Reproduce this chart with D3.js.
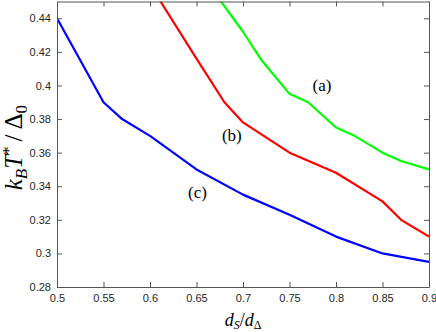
<!DOCTYPE html>
<html>
<head>
<meta charset="utf-8">
<script src="https://cdn.jsdelivr.net/npm/d3@7"></script>
<style>
    body { margin: 0; background: #fff; }
    svg { display: block; }
    .tick text { font-family: "Liberation Sans", Arial, sans-serif; font-size: 11px; fill: #262626; }
    .math { font-family: "Liberation Serif", "Times New Roman", serif; fill: #000; }
</style>
</head>
<body>
<div id="view"></div>
<script>
// curve (a): green
const xA = [0.65, 0.70, 0.72, 0.75, 0.77, 0.80, 0.82, 0.85, 0.87, 0.90];
const yA = [0.47, 0.432, 0.415, 0.395, 0.39, 0.375, 0.37, 0.36, 0.355, 0.35];
// curve (b): red
const xB = [0.60, 0.65, 0.68, 0.70, 0.75, 0.80, 0.85, 0.87, 0.90];
const yB = [0.46, 0.416, 0.39, 0.378, 0.36, 0.348, 0.331, 0.32, 0.31];
// curve (c): blue
const xC = [0.50, 0.55, 0.57, 0.60, 0.65, 0.70, 0.75, 0.80, 0.85, 0.90];
const yC = [0.44, 0.39, 0.38, 0.37, 0.35, 0.335, 0.323, 0.31, 0.30, 0.295];

const xTicks = [0.5, 0.55, 0.6, 0.65, 0.7, 0.75, 0.8, 0.85, 0.9];
const yTicks = [0.28, 0.3, 0.32, 0.34, 0.36, 0.38, 0.4, 0.42, 0.44];

const series = [
    {xs: xA, ys: yA, color: '#00ff00', label: '(a)', at: [0.785, 0.3997]},
    {xs: xB, ys: yB, color: '#ff0000', label: '(b)', at: [0.688, 0.370]},
    {xs: xC, ys: yC, color: '#0000ff', label: '(c)', at: [0.651, 0.336]}
];

const viewWidth = 436;
const viewHeight = 332;
const margin = {top: 1.5, left: 57, right: 7, bottom: 45};
const width = viewWidth - margin.left - margin.right;
const height = viewHeight - margin.top - margin.bottom;

const svg = d3.select('#view')
    .append('svg')
        .attr('width', viewWidth)
        .attr('height', viewHeight)
    .append('g')
        .attr('transform', `translate(${margin.left},${margin.top})`);

const x = d3.scaleLinear().domain([0.5, 0.9]).range([0, width]);
const y = d3.scaleLinear().domain([0.28, 0.45]).range([height, 0]);

svg.append('clipPath')
    .attr('id', 'clip')
    .append('rect')
        .attr('width', width)
        .attr('height', height);

// lines
series.forEach((s) => {
    const pts = s.xs.map((v, i) => [v, s.ys[i]]);
    svg.append('path')
        .datum(pts)
        .attr('clip-path', 'url(#clip)')
        .attr('fill', 'none')
        .attr('stroke', s.color)
        .attr('stroke-width', 2.2)
        .attr('stroke-linejoin', 'round')
        .attr('d', d3.line().x(d => x(d[0])).y(d => y(d[1])));
});

// annotations
series.forEach((s) => {
    svg.append('text')
        .attr('class', 'math')
        .attr('x', x(s.at[0]))
        .attr('y', y(s.at[1]))
        .attr('dy', '0.32em')
        .attr('text-anchor', 'middle')
        .attr('font-size', 17)
        .text(s.label);
});

// axes (ticks inside, box on)
const fmt = d => String(+d.toFixed(2));
const axisColor = '#555';
const styleAxis = (g) => {
    g.select('.domain').attr('stroke', axisColor);
    g.selectAll('.tick line').attr('stroke', axisColor);
};
svg.append('g')
    .attr('transform', `translate(0,${height})`)
    .call(d3.axisBottom(x).tickValues(xTicks).tickFormat(fmt).tickSizeInner(-5).tickSizeOuter(0).tickPadding(7))
    .call(styleAxis);
svg.append('g')
    .call(d3.axisLeft(y).tickValues(yTicks).tickFormat(fmt).tickSizeInner(-5).tickSizeOuter(0).tickPadding(6))
    .call(styleAxis);
svg.append('g')
    .call(d3.axisTop(x).tickValues(xTicks).tickFormat('').tickSizeInner(-5).tickSizeOuter(0))
    .call(styleAxis);
svg.append('g')
    .attr('transform', `translate(${width},0)`)
    .call(d3.axisRight(y).tickValues(yTicks).tickFormat('').tickSizeInner(-5).tickSizeOuter(0))
    .call(styleAxis);

// axis labels
const xl = svg.append('text')
    .attr('class', 'math')
    .attr('x', width / 2)
    .attr('y', height + 39)
    .attr('text-anchor', 'middle')
    .attr('font-size', 18)
    .attr('font-style', 'italic');
xl.append('tspan').text('d');
xl.append('tspan').attr('font-size', 12).attr('dy', 3).text('S');
xl.append('tspan').attr('dy', -3).attr('font-style', 'normal').text('/');
xl.append('tspan').text('d');
xl.append('tspan').attr('font-size', 12).attr('dy', 3).attr('font-style', 'normal').text('Δ');

const yl = svg.append('text')
    .attr('class', 'math')
    .attr('transform', `translate(${-35},${y(0.363)}) rotate(-90)`)
    .attr('text-anchor', 'middle')
    .attr('font-size', 25)
    .attr('font-style', 'italic');
yl.append('tspan').text('k');
yl.append('tspan').attr('font-size', 17).attr('dy', 5).text('B');
yl.append('tspan').attr('dy', -5).text('T');
yl.append('tspan').attr('font-size', 17).attr('dy', -8).attr('font-style', 'normal').text('*');
yl.append('tspan').attr('dy', 8).attr('font-style', 'normal').text('\u2009/\u2009Δ');
yl.append('tspan').attr('font-size', 17).attr('dy', 5).attr('font-style', 'normal').text('0');
</script>
</body>
</html>
